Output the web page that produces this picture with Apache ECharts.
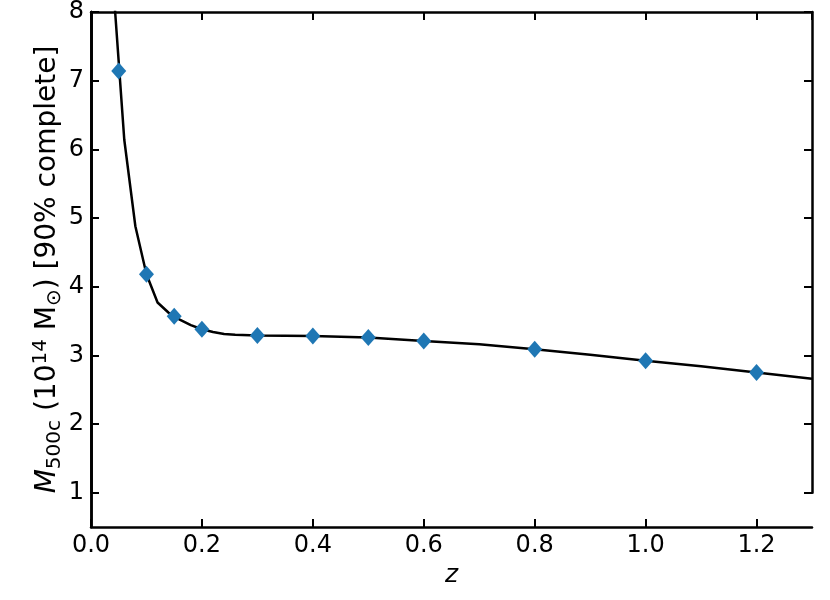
<!DOCTYPE html>
<html>
<head>
<meta charset="utf-8">
<script src="https://cdn.jsdelivr.net/npm/echarts@6/dist/echarts.min.js"></script>
<style>
  html, body { margin: 0; padding: 0; background: #fff; }
  #chart { width: 830px; height: 600px; }
</style>
</head>
<body>
<div id="chart"></div>
<script>
// completeness curve (line)
const curveZ = [0.04, 0.06, 0.08, 0.1, 0.12, 0.14, 0.16, 0.18, 0.2, 0.22, 0.24, 0.26, 0.3, 0.4, 0.5, 0.6, 0.7, 0.8, 0.9, 1.0, 1.1, 1.2, 1.3]
const curveM = [8.4, 6.14, 4.88, 4.18, 3.77, 3.62, 3.52, 3.44, 3.38, 3.34, 3.31, 3.30, 3.29, 3.28, 3.26, 3.21, 3.16, 3.09, 3.01, 2.92, 2.84, 2.75, 2.66]
// sampled points (diamonds)
const pointZ = [0.05, 0.1, 0.15, 0.2, 0.3, 0.4, 0.5, 0.6, 0.8, 1.0, 1.2]
const pointM = [7.14, 4.18, 3.57, 3.38, 3.29, 3.28, 3.26, 3.21, 3.09, 2.92, 2.75]

const font = 'DejaVu Sans'
const yMin = 0.5
const yMax = 8
const plotTop = 12
const plotBottom = 73
const chart = echarts.init(document.getElementById('chart'))

// the tick grid stops at y = 1 so its ticks start on a whole number
const unit = (600 - plotTop - plotBottom) / (yMax - yMin)
const tickGridBottom = plotBottom + (1 - yMin) * unit

const tickStyle = { show: true, inside: true, length: 8, lineStyle: { color: '#000', width: 2 } }
const lineStyle = { show: true, lineStyle: { color: '#000', width: 2.5 } }

chart.setOption({
  animation: false,
  grid: [
    { left: 91, right: 18, top: plotTop, bottom: plotBottom, outerBoundsMode: 'none' },
    { left: 91, right: 18, top: plotTop, bottom: tickGridBottom, outerBoundsMode: 'none' }
  ],
  xAxis: [
    {
      type: 'value', gridIndex: 0, min: 0, max: 1.3, interval: 0.2, position: 'bottom',
      axisLine: lineStyle, axisTick: tickStyle, splitLine: { show: false },
      axisLabel: { color: '#000', fontFamily: font, fontSize: 24, margin: 7, showMaxLabel: false, formatter: v => v.toFixed(1) },
      name: 'z', nameLocation: 'middle', nameGap: 33,
      nameTextStyle: { color: '#000', fontFamily: font, fontSize: 25, fontStyle: 'italic' }
    },
    {
      type: 'value', gridIndex: 0, min: 0, max: 1.3, interval: 0.2, position: 'top',
      axisLine: lineStyle, axisTick: tickStyle, axisLabel: { show: false }, splitLine: { show: false }
    },
    {
      type: 'value', gridIndex: 1, min: 0, max: 1.3, show: false
    }
  ],
  yAxis: [
    {
      type: 'value', gridIndex: 0, min: yMin, max: yMax, position: 'left',
      axisLine: lineStyle, axisTick: { show: false }, axisLabel: { show: false }, splitLine: { show: false },
      name: '{i|M}{sub|500c} (10{sup|14} M{sub|⊙}) [90% complete]',
      nameLocation: 'middle', nameGap: 26,
      nameTextStyle: {
        color: '#000', fontFamily: font, fontSize: 28, lineHeight: 34,
        rich: {
          i: { fontFamily: font, fontSize: 28, fontStyle: 'italic', color: '#000', lineHeight: 34 },
          sub: { fontFamily: font, fontSize: 20, color: '#000', verticalAlign: 'bottom', lineHeight: 26, padding: [12, 0, 0, 0] },
          sup: { fontFamily: font, fontSize: 20, color: '#000', verticalAlign: 'top', lineHeight: 26, padding: [0, 0, 12, 0] }
        }
      }
    },
    {
      type: 'value', gridIndex: 0, min: yMin, max: yMax, position: 'right',
      axisLine: lineStyle, axisTick: { show: false }, axisLabel: { show: false }, splitLine: { show: false }
    },
    {
      type: 'value', gridIndex: 1, min: 1, max: yMax, interval: 1, position: 'left',
      axisLine: lineStyle, axisTick: tickStyle, splitLine: { show: false },
      axisLabel: { color: '#000', fontFamily: font, fontSize: 24, margin: 7 }
    },
    {
      type: 'value', gridIndex: 1, min: 1, max: yMax, interval: 1, position: 'right',
      axisLine: lineStyle, axisTick: tickStyle, axisLabel: { show: false }, splitLine: { show: false }
    }
  ],
  series: [
    {
      type: 'line', xAxisIndex: 0, yAxisIndex: 0,
      data: curveZ.map((z, i) => [z, curveM[i]]),
      showSymbol: false, symbol: 'none', clip: true,
      lineStyle: { color: '#000', width: 2.5 }, z: 2
    },
    {
      type: 'scatter', xAxisIndex: 0, yAxisIndex: 0,
      data: pointZ.map((z, i) => [z, pointM[i]]),
      symbol: 'diamond', symbolSize: [15, 17],
      itemStyle: { color: '#1f77b4', opacity: 1 }, z: 3
    }
  ]
})
</script>
</body>
</html>
